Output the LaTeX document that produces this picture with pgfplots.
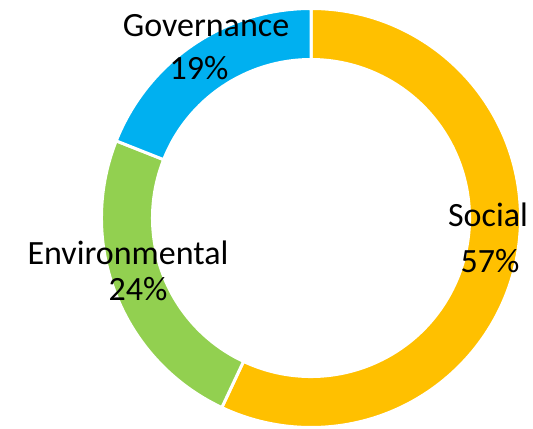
\documentclass[border=0pt]{standalone}
\usepackage{pgfplots}
\usepackage{pgfplotstable}
\usepackage{fontspec}
\setmainfont{Carlito}
\pgfplotsset{compat=1.18}

\definecolor{social}{HTML}{FFC000}
\definecolor{envir}{HTML}{92D050}
\definecolor{gov}{HTML}{00B0F0}

% share of each pillar, in percent
\pgfplotstableread{
label value
Social 57
Environmental 24
Governance 19
}\esgdata

\pgfplotstablegetelem{0}{value}\of\esgdata \let\vSoc\pgfplotsretval
\pgfplotstablegetelem{1}{value}\of\esgdata \let\vEnv\pgfplotsretval
\pgfplotstablegetelem{2}{value}\of\esgdata \let\vGov\pgfplotsretval

% clockwise from 12 o'clock
\pgfmathsetmacro\aA{90}
\pgfmathsetmacro\aB{\aA-3.6*\vSoc}
\pgfmathsetmacro\aC{\aB-3.6*\vEnv}
\pgfmathsetmacro\aD{\aC-3.6*\vGov}

\newcommand\ringpart[3]{%
  \fill[#1, draw=white, line width=3bp, shift={(axis cs:311,210)}]
    (#2:209.5bp) arc[start angle=#2, end angle=#3, radius=209.5bp]
    -- (#3:158.5bp) arc[start angle=#3, end angle=#2, radius=158.5bp]
    -- cycle;}

\tikzset{lbl/.style={inner sep=0pt, anchor=base,
  font=\fontsize{34bp}{41bp}\selectfont}}

\begin{document}
\begin{tikzpicture}
\begin{axis}[
    scale only axis,
    width=533bp, height=428bp,
    xmin=0, xmax=533, ymin=0, ymax=428,
    hide axis, clip=false
]
\path (axis cs:0,0) rectangle (axis cs:533,428);

\ringpart{social}{\aA}{\aB}
\ringpart{envir}{\aB}{\aC}
\ringpart{gov}{\aC}{\aD}

\node[lbl] at (axis cs:206,391) {Governance};
\node[lbl] at (axis cs:199,348) {\vGov\%};
\node[lbl] at (axis cs:488,201) {Social};
\node[lbl] at (axis cs:490,155) {\vSoc\%};
\node[lbl] at (axis cs:128,163) {Environmental};
\node[lbl] at (axis cs:138,127) {\vEnv\%};
\end{axis}
\end{tikzpicture}
\end{document}
